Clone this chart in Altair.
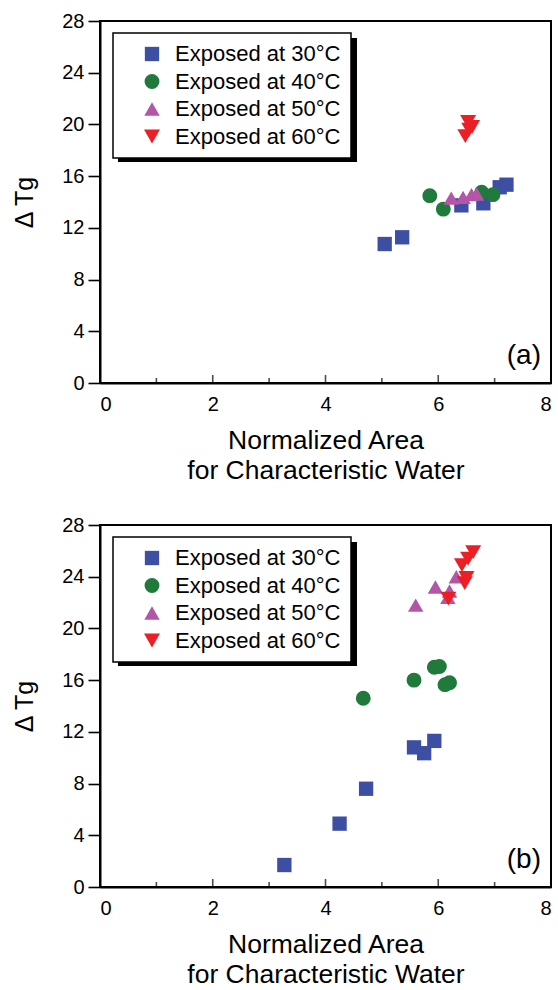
import altair as alt
import pandas as pd

series = ["Exposed at 30°C", "Exposed at 40°C", "Exposed at 50°C", "Exposed at 60°C"]
colors = ["#3D4FA3", "#1F7A3B", "#B456A8", "#EC1F26"]
shapes = ["square", "circle", "triangle-up", "triangle-down"]
sizes = [205, 256, 300, 400]

# Panel (a)
a30_x = [5.05, 5.36, 6.41, 6.80, 7.09, 7.21]
a30_y = [10.75, 11.27, 13.74, 13.90, 15.14, 15.34]
a40_x = [5.85, 6.09, 6.77, 6.97]
a40_y = [14.49, 13.45, 14.75, 14.57]
a50_x = [6.23, 6.44, 6.59, 6.68]
a50_y = [14.30, 14.36, 14.57, 14.62]
a60_x = [6.53, 6.60, 6.48, 6.55]
a60_y = [20.2, 19.8, 19.1, 19.6]

# Panel (b)
b30_x = [3.27, 4.25, 4.72, 5.57, 5.75, 5.93]
b30_y = [1.7, 4.9, 7.6, 10.8, 10.35, 11.3]
b40_x = [4.67, 5.57, 5.93, 6.02, 6.12, 6.20]
b40_y = [14.6, 16.0, 17.0, 17.05, 15.65, 15.8]
b50_x = [5.60, 5.95, 6.17, 6.20, 6.32]
b50_y = [21.8, 23.2, 22.4, 22.9, 24.0]
b60_x = [6.18, 6.47, 6.50, 6.42, 6.53, 6.62]
b60_y = [22.3, 23.5, 23.9, 24.9, 25.4, 25.9]

x_major = [0, 2, 4, 6, 8]
x_minor = [1, 3, 5, 7]
y_ticks = list(range(0, 29, 2))

FONT = "Liberation Sans"
W, H = 451, 362


def panel(xs_list, ys_list, tag):
    rows = []
    for s, xs, ys in zip(series, xs_list, ys_list):
        for x, y in zip(xs, ys):
            rows.append({"series": s, "x": x, "y": y})
    df = pd.DataFrame(rows)

    xenc = alt.X(
        "x:Q",
        scale=alt.Scale(domain=[0, 8], nice=False, zero=False),
        axis=alt.Axis(
            values=x_major, ticks=False, format="d",
            title=["Normalized Area", "for Characteristic Water"],
            labelPadding=11, titlePadding=13, titleLineHeight=30,
            titleFontSize=26.5,
        ),
    )
    yenc = alt.Y(
        "y:Q",
        scale=alt.Scale(domain=[0, 28], nice=False),
        axis=alt.Axis(
            values=y_ticks, format="d", title="Δ Tg",
            labelExpr="datum.value % 4 === 0 ? datum.label : ''",
            tickSize={"condition": {"test": "datum.value % 4 === 0", "value": 12}, "value": 5},
            labelPadding=4, titlePadding=24, titleFontSize=25,
        ),
    )

    pts = alt.Chart(df).mark_point(filled=True, opacity=1).encode(
        x=xenc,
        y=yenc,
        color=alt.Color(
            "series:N",
            scale=alt.Scale(domain=series, range=colors),
            legend=alt.Legend(
                title=None, orient="none", legendX=13, legendY=12,
                fillColor="white", strokeColor="black", padding=10,
                symbolOffset=18, labelOffset=12, rowPadding=5.5, labelLimit=400,
            ),
        ),
        shape=alt.Shape("series:N", scale=alt.Scale(domain=series, range=shapes)),
        size=alt.Size("series:N", scale=alt.Scale(domain=series, range=sizes)),
    )

    tdf_major = pd.DataFrame({"x": x_major, "y": [0] * len(x_major)})
    tdf_minor = pd.DataFrame({"x": x_minor, "y": [0] * len(x_minor)})
    tick_major = alt.Chart(tdf_major).mark_tick(
        orient="vertical", size=8, thickness=1.6, color="black", yOffset=-4
    ).encode(x="x:Q", y="y:Q")
    tick_minor = alt.Chart(tdf_minor).mark_tick(
        orient="vertical", size=5, thickness=1.6, color="black", yOffset=-2.5
    ).encode(x="x:Q", y="y:Q")

    # drop shadow behind the legend box
    shadow = alt.Chart(pd.DataFrame({"k": [0]})).mark_rect(color="black").encode(
        x=alt.value(18), x2=alt.value(257), y=alt.value(17), y2=alt.value(141)
    )

    lab = alt.Chart(pd.DataFrame({"t": [tag]})).mark_text(
        align="right", baseline="alphabetic", fontSize=28, font=FONT, color="black"
    ).encode(text="t:N", x=alt.value(W - 10), y=alt.value(H - 19))

    return alt.layer(shadow, tick_major, tick_minor, pts, lab).properties(width=W, height=H)


top = panel([a30_x, a40_x, a50_x, a60_x], [a30_y, a40_y, a50_y, a60_y], "(a)")
bottom = panel([b30_x, b40_x, b50_x, b60_x], [b30_y, b40_y, b50_y, b60_y], "(b)")

chart = alt.vconcat(top, bottom, spacing=29).resolve_scale(
    color="independent", shape="independent", size="independent"
).properties(
    padding={"left": 11, "top": 10, "right": 0, "bottom": 0},
    background="white",
).configure_view(
    stroke="black", strokeWidth=2
).configure_axis(
    domainColor="black", domainWidth=2, tickColor="black", tickWidth=1.6,
    labelColor="black", titleColor="black", labelFont=FONT, titleFont=FONT,
    labelFontSize=20, titleFontWeight="normal", grid=False,
).configure_legend(
    labelFont=FONT, labelFontSize=22, labelColor="black", strokeWidth=1.5,
    symbolOpacity=1, labelLimit=400,
)

chart.save("out.html", embed_options={"renderer": "svg", "actions": False})
